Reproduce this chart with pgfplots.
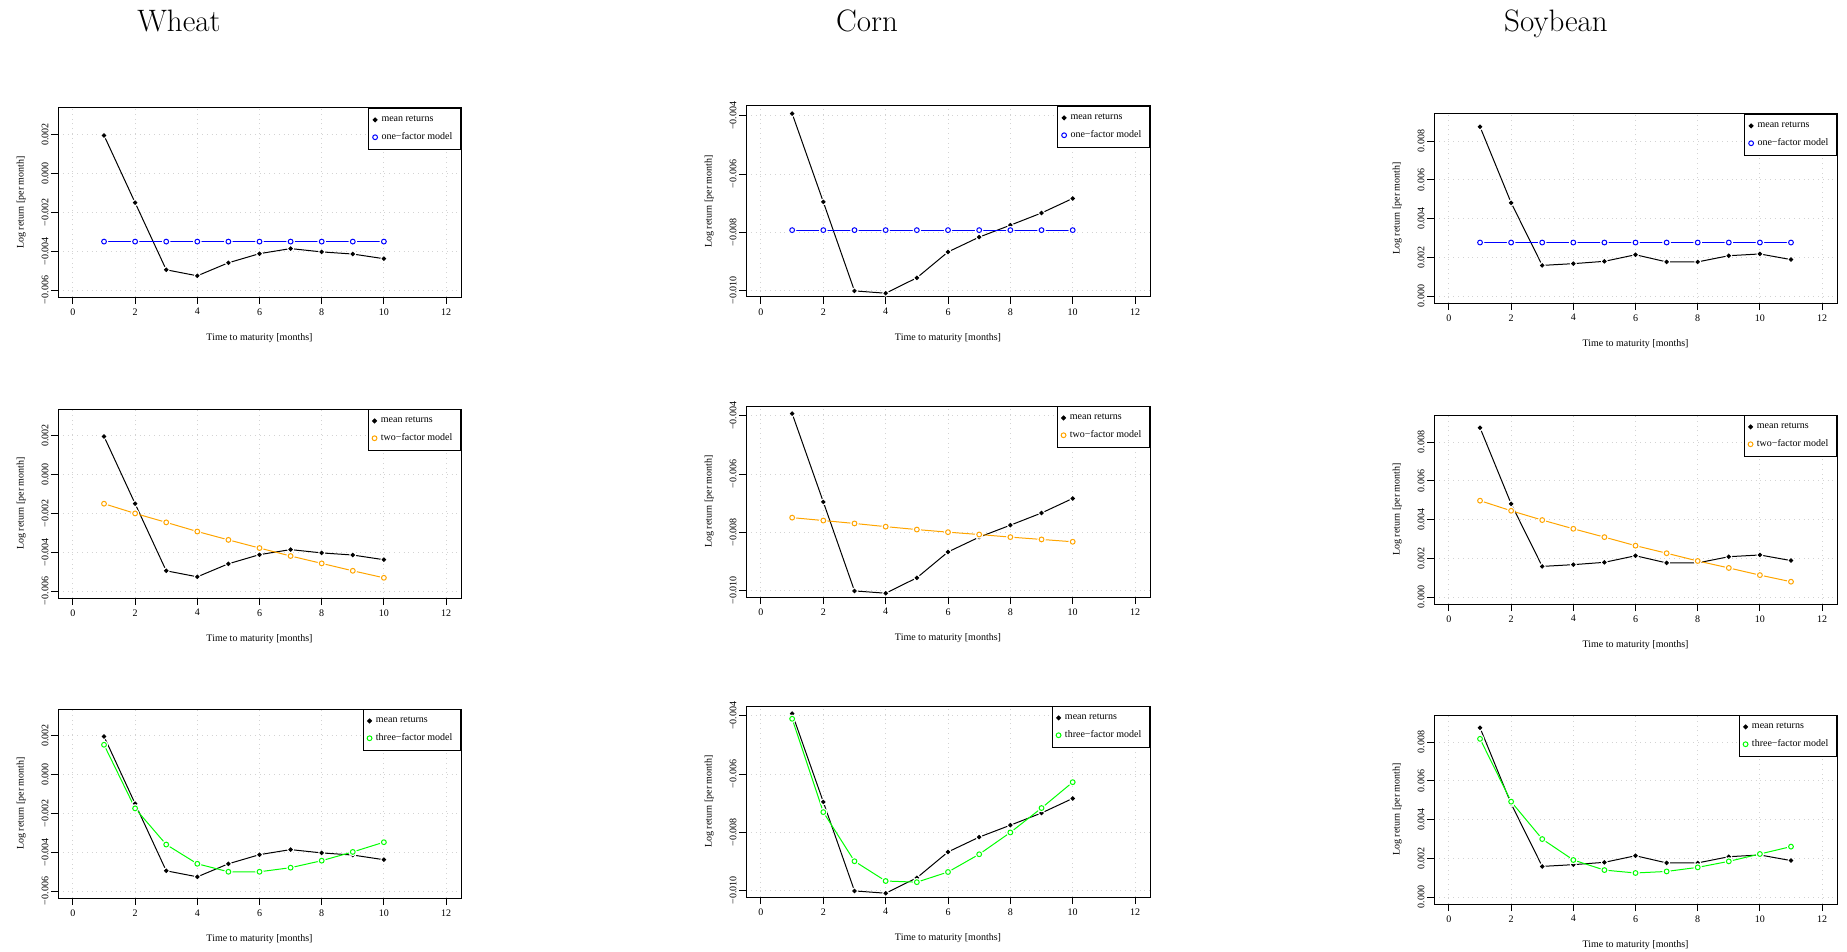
\documentclass[border=0pt]{standalone}
\usepackage{pgfplots}
\usepackage{pgfplotstable}
\usepackage{fontspec}
\pgfplotsset{compat=1.18}
\newfontfamily\rserif{Liberation Serif}
\newcommand\rf{\fontsize{5}{6}\selectfont\rserif}
\definecolor{rgrid}{RGB}{211,211,211}
\definecolor{rorange}{RGB}{255,165,0}
\definecolor{rgreen}{RGB}{0,255,0}
\definecolor{rblue}{RGB}{0,0,255}

% columns: maturity, mean returns, one-, two- and three-factor fits
\pgfplotstableread{
t mean one two three
1 0.00195 -0.00351 -0.00151 0.00152
2 -0.00151 -0.00351 -0.00201 -0.00175
3 -0.00496 -0.00351 -0.00247 -0.00361
4 -0.00527 -0.00351 -0.00294 -0.00460
5 -0.00460 -0.00351 -0.00337 -0.00501
6 -0.00413 -0.00351 -0.00379 -0.00501
7 -0.00387 -0.00351 -0.00420 -0.00480
8 -0.00404 -0.00351 -0.00458 -0.00444
9 -0.00415 -0.00351 -0.00496 -0.00399
10 -0.00439 -0.00351 -0.00532 -0.00349
}\wheat
\pgfplotstableread{
t mean one two three
1 -0.00392 -0.00793 -0.00750 -0.00410
2 -0.00696 -0.00793 -0.00760 -0.00731
3 -0.01002 -0.00793 -0.00770 -0.00900
4 -0.01010 -0.00793 -0.00781 -0.00968
5 -0.00957 -0.00793 -0.00791 -0.00972
6 -0.00868 -0.00793 -0.00800 -0.00937
7 -0.00817 -0.00793 -0.00808 -0.00876
8 -0.00776 -0.00793 -0.00817 -0.00801
9 -0.00734 -0.00793 -0.00825 -0.00717
10 -0.00684 -0.00793 -0.00833 -0.00628
}\corn
\pgfplotstableread{
t mean one two three
1 0.00874 0.00277 0.00498 0.00817
2 0.00482 0.00277 0.00446 0.00493
3 0.00159 0.00277 0.00398 0.00300
4 0.00168 0.00277 0.00353 0.00192
5 0.00180 0.00277 0.00310 0.00140
6 0.00214 0.00277 0.00266 0.00125
7 0.00177 0.00277 0.00227 0.00133
8 0.00177 0.00277 0.00187 0.00154
9 0.00209 0.00277 0.00151 0.00185
10 0.00218 0.00277 0.00114 0.00223
11 0.00189 0.00277 0.00080 0.00261
}\soy

\pgfplotsset{
  rpanel/.style={
    scale only axis, width=201.5pt, height=94.5pt,
    xmin=-0.48, xmax=12.48,
    xtick={0,2,4,6,8,10,12}, xticklabels={0,2,4,6,8,10,12},
    tick align=outside, tick pos=left, major tick length=3.5pt,
    grid=major, grid style={rgrid, dotted, line width=0.5pt},
    axis line style={line width=0.5pt},
    every tick/.style={black, line width=0.5pt},
    ticklabel style={font=\rf},
    yticklabel style={rotate=90, anchor=south, inner sep=1pt},
    xticklabel style={inner sep=1pt, yshift=-1pt},
    xlabel={Time to maturity [months]}, ylabel={Log return [per month]},
    label style={font=\rf},
    xlabel style={yshift=-4.5pt},
    ylabel style={yshift=3.5pt},
    scaled y ticks=false,
    clip=false,
    legend cell align=left,
    legend style={at={(1,1)}, anchor=north east, font=\rf, draw=black,
      line width=0.6pt, inner xsep=2pt, inner ysep=1.5pt, row sep=0pt,
      /tikz/every even column/.append style={column sep=1.5pt}},
    legend image code/.code={\draw[#1] plot[only marks] coordinates {(0.1cm,0cm)};},
  },
  wheaty/.style={ymin=-0.00636, ymax=0.00336,
    ytick={-0.006,-0.004,-0.002,0,0.002},
    yticklabels={−0.006,−0.004,−0.002,0.000,0.002}},
  corny/.style={ymin=-0.01023, ymax=-0.00366,
    ytick={-0.010,-0.008,-0.006,-0.004},
    yticklabels={−0.010,−0.008,−0.006,−0.004}},
  soyy/.style={ymin=-0.00035, ymax=0.00940,
    ytick={0,0.002,0.004,0.006,0.008},
    yticklabels={0.000,0.002,0.004,0.006,0.008}},
}

% a series drawn as in R's type "b": line with gaps around each point
\newcommand\meanseries[1]{%
  \addplot[black, line width=0.5pt, forget plot] table[x=t,y=mean]{#1};
  \addplot[only marks, mark=*, mark size=1.5pt, white, forget plot] table[x=t,y=mean]{#1};
  \addplot[only marks, mark=*, mark size=0.9pt, black, forget plot] table[x=t,y=mean]{#1};
}
\newcommand\modelseries[3]{%
  \addplot[#3, line width=0.5pt, forget plot] table[x=t,y=#2]{#1};
  \addplot[only marks, mark=*, mark size=1.9pt, white, forget plot] table[x=t,y=#2]{#1};
  \addplot[only marks, mark=o, mark size=1.2pt, line width=0.5pt, #3, forget plot] table[x=t,y=#2]{#1};
}
\newcommand\legendpair[2]{%
  \addlegendimage{only marks, mark=*, mark size=0.9pt, black}
  \addlegendentry{mean returns}
  \addlegendimage{only marks, mark=o, mark size=1.2pt, line width=0.5pt, #1}
  \addlegendentry{#2}
}

\begin{document}
\begin{tikzpicture}
\useasboundingbox (0,0) rectangle (923.5pt,-476pt);

\node[anchor=base, font=\fontsize{15.5}{18}\selectfont] at (89.5pt,-16pt) {Wheat};
\node[anchor=base, font=\fontsize{15.5}{18}\selectfont] at (433.5pt,-16pt) {Corn};
\node[anchor=base, font=\fontsize{15.5}{18}\selectfont] at (778pt,-16pt) {Soybean};

% Wheat
\begin{axis}[rpanel, wheaty, at={(29pt,-54pt)}, anchor=north west]
  \meanseries{\wheat}
  \modelseries{\wheat}{one}{rblue}
  \legendpair{rblue}{one−factor model}
\end{axis}
\begin{axis}[rpanel, wheaty, at={(29pt,-204.5pt)}, anchor=north west]
  \meanseries{\wheat}
  \modelseries{\wheat}{two}{rorange}
  \legendpair{rorange}{two−factor model}
\end{axis}
\begin{axis}[rpanel, wheaty, at={(29pt,-354.5pt)}, anchor=north west]
  \meanseries{\wheat}
  \modelseries{\wheat}{three}{rgreen}
  \legendpair{rgreen}{three−factor model}
\end{axis}

% Corn
\begin{axis}[rpanel, corny, width=202pt, height=95.5pt, at={(373pt,-53pt)}, anchor=north west]
  \meanseries{\corn}
  \modelseries{\corn}{one}{rblue}
  \legendpair{rblue}{one−factor model}
\end{axis}
\begin{axis}[rpanel, corny, width=202pt, height=95.5pt, at={(373pt,-203pt)}, anchor=north west]
  \meanseries{\corn}
  \modelseries{\corn}{two}{rorange}
  \legendpair{rorange}{two−factor model}
\end{axis}
\begin{axis}[rpanel, corny, width=202pt, height=95.5pt, at={(373pt,-353pt)}, anchor=north west]
  \meanseries{\corn}
  \modelseries{\corn}{three}{rgreen}
  \legendpair{rgreen}{three−factor model}
\end{axis}

% Soybean
\begin{axis}[rpanel, soyy, at={(717pt,-57pt)}, anchor=north west]
  \meanseries{\soy}
  \modelseries{\soy}{one}{rblue}
  \legendpair{rblue}{one−factor model}
\end{axis}
\begin{axis}[rpanel, soyy, at={(717pt,-207.5pt)}, anchor=north west]
  \meanseries{\soy}
  \modelseries{\soy}{two}{rorange}
  \legendpair{rorange}{two−factor model}
\end{axis}
\begin{axis}[rpanel, soyy, at={(717pt,-357.5pt)}, anchor=north west]
  \meanseries{\soy}
  \modelseries{\soy}{three}{rgreen}
  \legendpair{rgreen}{three−factor model}
\end{axis}
\end{tikzpicture}
\end{document}
